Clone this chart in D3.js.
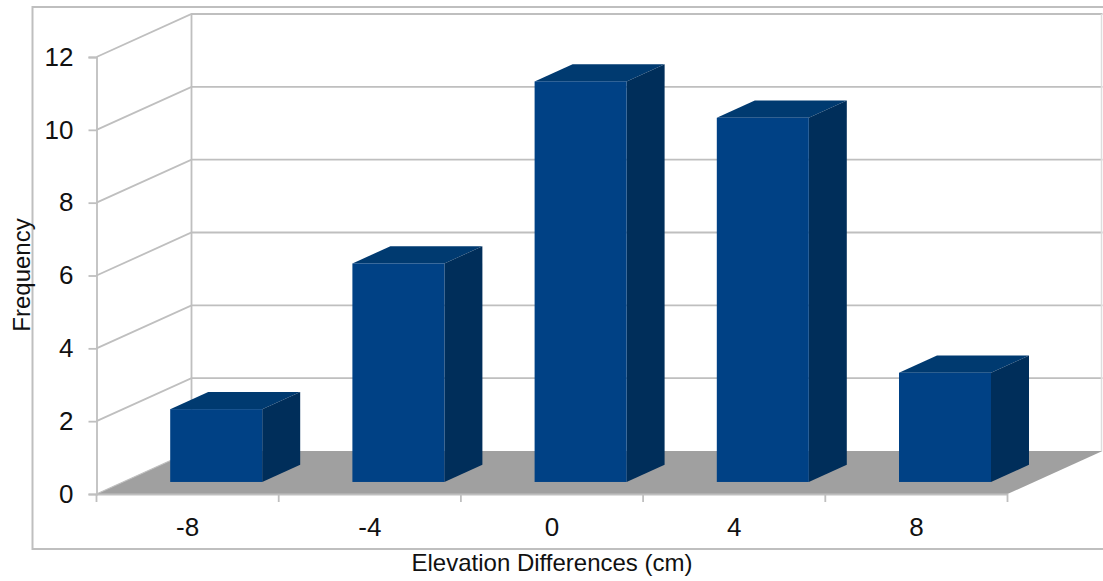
<!DOCTYPE html>
<html>
<head>
<meta charset="utf-8">
<script src="https://cdn.jsdelivr.net/npm/d3@7"></script>
<style>
body { margin: 0; background: #fff; }
text { font-family: "Liberation Sans", Arial, sans-serif; fill: #111; }
</style>
</head>
<body>
<div id="chart"></div>
<script>
var categories = ["-8", "-4", "0", "4", "8"];
var frequency = [2, 6, 11, 10, 3];
var yTicks = [0, 2, 4, 6, 8, 10, 12];

var width = 1103, height = 581;

var svg = d3.select("#chart")
    .append("svg")
    .attr("width", width)
    .attr("height", height)
    .style("display", "block");

var x = d3.scaleBand()
    .domain(categories)
    .range([96.5, 1007.5]);

var y = d3.scaleLinear()
    .domain([0, 12])
    .range([494, 57]);

// depth goes from the front of the floor (0) to the back wall (1)
var depthX = d3.scaleLinear().domain([0, 1]).range([0, 95]);
var depthY = d3.scaleLinear().domain([0, 1]).range([0, -43]);

var barWidth = 92,
    barShift = 2,
    barFront = 0.28,
    barBack = 0.68;

var gridColor = "#bfbfbf";

function pts(list) {
    return list.map(function(p) { return p[0] + "," + p[1]; }).join(" ");
}

// outer frame
svg.append("rect")
    .attr("x", 32.5)
    .attr("y", 7)
    .attr("width", 1075)
    .attr("height", 542)
    .attr("fill", "none")
    .attr("stroke", gridColor)
    .attr("stroke-width", 2);

// floor
var x0 = x.range()[0], x1 = x.range()[1];
svg.append("polygon")
    .attr("points", pts([
        [x0, y(0)],
        [x1, y(0)],
        [x1 + depthX(1), y(0) + depthY(1)],
        [x0 + depthX(1), y(0) + depthY(1)]
    ]))
    .attr("fill", "#a0a0a0");

// grid lines on side and back wall
svg.append("g")
    .selectAll("polyline")
    .data(yTicks.filter(function(d) { return d > 0; }))
    .enter()
    .append("polyline")
      .attr("points", function(d) {
          return pts([
              [x0, y(d)],
              [x0 + depthX(1), y(d) + depthY(1)],
              [x1 + depthX(1), y(d) + depthY(1)]
          ]);
      })
      .attr("fill", "none")
      .attr("stroke", gridColor)
      .attr("stroke-width", 1.8);

svg.append("line")
    .attr("x1", x0 + depthX(1))
    .attr("x2", x0 + depthX(1))
    .attr("y1", y(0) + depthY(1))
    .attr("y2", y(12) + depthY(1))
    .attr("stroke", gridColor)
    .attr("stroke-width", 1.8);

svg.append("line")
    .attr("x1", x1 + depthX(1) - 1)
    .attr("x2", x1 + depthX(1) - 1)
    .attr("y1", y(0) + depthY(1))
    .attr("y2", y(12) + depthY(1))
    .attr("stroke", "#dddddd")
    .attr("stroke-width", 1.5);

svg.append("line")
    .attr("x1", x0)
    .attr("x2", x0 + depthX(1))
    .attr("y1", y(0))
    .attr("y2", y(0) + depthY(1))
    .attr("stroke", gridColor)
    .attr("stroke-width", 1.2);

// axes
var yAxis = svg.append("g")
    .attr("transform", "translate(" + x0 + ",0)")
    .call(d3.axisLeft(y).tickValues(yTicks).tickSize(8).tickPadding(15));

var xAxis = svg.append("g")
    .attr("transform", "translate(0," + y(0) + ")")
    .call(d3.axisBottom(x).tickSize(0).tickPadding(23.5));

xAxis.selectAll(".edge")
    .data(d3.range(categories.length + 1))
    .enter()
    .append("line")
      .attr("class", "edge")
      .attr("x1", function(i) { return x0 + i * x.bandwidth(); })
      .attr("x2", function(i) { return x0 + i * x.bandwidth(); })
      .attr("y1", 0)
      .attr("y2", 8)
      .attr("stroke", gridColor)
      .attr("stroke-width", 1.8);

[yAxis, xAxis].forEach(function(a) {
    a.select(".domain").attr("stroke", gridColor).attr("stroke-width", 1.8);
    a.selectAll(".tick line").attr("stroke", gridColor).attr("stroke-width", 1.8);
    a.selectAll("text").attr("font-size", 26).style("font-family", '"Liberation Sans", Arial, sans-serif').attr("fill", "#111");
});

// bars
var bars = svg.append("g")
    .selectAll("g")
    .data(frequency)
    .enter()
    .append("g");

function barLeft(d, i) {
    return x(categories[i]) + (x.bandwidth() - barWidth) / 2 + depthX(barFront) + barShift;
}
var sideX = depthX(barBack - barFront), sideY = depthY(barBack - barFront);
var base = y(0) + depthY(barFront);

function barTop(d) {
    return y(d) + depthY(barFront);
}

bars.append("polygon")
    .attr("points", function(d, i) {
        var l = barLeft(d, i), t = barTop(d);
        return pts([
            [l, t],
            [l + barWidth, t],
            [l + barWidth + sideX, t + sideY],
            [l + sideX, t + sideY]
        ]);
    })
    .attr("fill", "#003a70");

bars.append("polygon")
    .attr("points", function(d, i) {
        var r = barLeft(d, i) + barWidth, t = barTop(d);
        return pts([
            [r, t],
            [r + sideX, t + sideY],
            [r + sideX, base + sideY],
            [r, base]
        ]);
    })
    .attr("fill", "#002e5a");

bars.append("rect")
    .attr("x", barLeft)
    .attr("y", barTop)
    .attr("width", barWidth)
    .attr("height", function(d) { return base - barTop(d); })
    .attr("fill", "#004185");

// axis titles
svg.append("text")
    .attr("x", 552)
    .attr("y", 571)
    .attr("text-anchor", "middle")
    .attr("font-size", 24)
    .text("Elevation Differences (cm)");

svg.append("text")
    .attr("transform", "translate(30,275) rotate(-90)")
    .attr("text-anchor", "middle")
    .attr("font-size", 24)
    .text("Frequency");
</script>
</body>
</html>
